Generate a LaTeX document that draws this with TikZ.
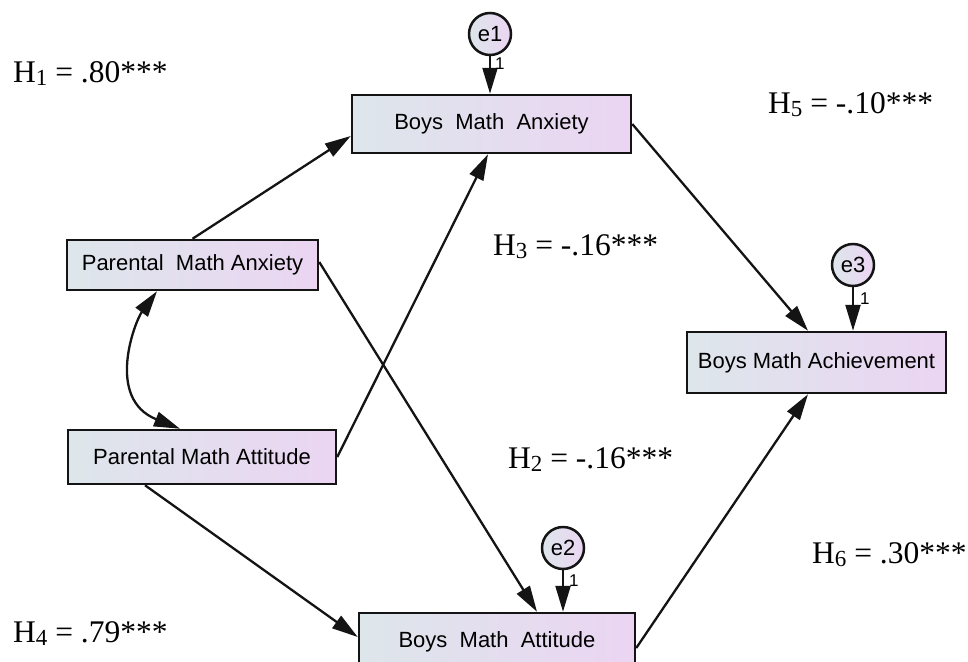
\documentclass[tikz,border=0pt]{standalone}
\usepackage{fontspec}
\setmainfont{Liberation Serif}
\newfontfamily\arialf{Liberation Sans}
\usetikzlibrary{arrows.meta,calc}
\definecolor{boxL}{RGB}{221,230,235}
\definecolor{boxR}{RGB}{235,213,242}
\definecolor{edge}{RGB}{20,20,20}
\begin{document}
\begin{tikzpicture}[x=1pt,y=-1pt,
  var/.style={draw=edge, line width=2.5pt, left color=boxL, right color=boxR,
    font=\arialf\fontsize{22}{25}\selectfont, inner sep=0pt},
  err/.style={circle, draw=edge, line width=2.5pt, minimum size=42pt, inner sep=0pt,
    left color=boxL, right color=boxR, font=\arialf\fontsize{22}{25}\selectfont},
  tip/.tip={Triangle[length=26pt,width=15pt]},
  conn/.style={draw=edge, line width=2.3pt, -tip},
  hlab/.style={anchor=base west, inner sep=0pt, font=\fontsize{31.5}{36}\selectfont},
  onelab/.style={anchor=west, inner sep=0pt, font=\arialf\fontsize{17}{19}\selectfont}]
\useasboundingbox (0,0) rectangle (968,661);
\clip (0,0) rectangle (968,661);

% observed variables
\node[var, minimum width=279pt, minimum height=58pt] (bmanx) at (491.5,124) {Boys~~Math~~Anxiety};
\node[var, minimum width=251pt, minimum height=50pt] (pmanx) at (192.5,265) {Parental~~Math Anxiety};
\node[var, minimum width=268pt, minimum height=54pt] (pmatt) at (202,457) {Parental Math Attitude};
\node[var, minimum width=259pt, minimum height=61pt] (bmach) at (816.5,362.5) {Boys Math Achievement};
\node[var, minimum width=276pt, minimum height=58pt] (bmatt) at (497,642) {Boys~~Math~~Attitude};

% error terms
\node[err] (e1) at (490,34) {e1};
\node[err] (e3) at (853,265) {e3};
\node[err] (e2) at (563,548) {e2};

% error paths
\draw[conn] (e1) -- (e1 |- bmanx.north);
\draw[conn] (e3) -- (e3 |- bmach.north);
\draw[conn] (e2) -- (e2 |- bmatt.north);
\node[onelab] (one1) at (495,64) {1};
\node[onelab] (one3) at (860,299) {1};
\node[onelab] (one2) at (569,581) {1};

% structural paths
\draw[conn] (pmanx.north) -- ([yshift=-12pt]bmanx.west);
\draw[conn] (pmatt.east) -- ([xshift=-3.5pt]bmanx.south);
\draw[conn] ([yshift=3pt]pmanx.east) -- ([xshift=40pt]bmatt.north);
\draw[conn] ([xshift=-57pt]pmatt.south) -- ([yshift=5pt]bmatt.west);
\draw[conn] (bmanx.east) -- ([xshift=-8.5pt]bmach.north);
\draw[conn] ([yshift=-6pt]bmatt.east) -- ([xshift=-8.5pt]bmach.south);

% covariance
\draw[draw=edge, line width=2.3pt, tip-tip] ([xshift=-35.5pt]pmanx.south)
  .. controls +(-22,30) and +(-75,-30) .. ([xshift=-22pt]pmatt.north);

% hypothesis labels
\node[hlab] (h1) at (13,82) {H\raisebox{-3pt}{\fontsize{23}{23}\selectfont 1} = .80***};
\node[hlab] (h5) at (768,113) {H\raisebox{-3pt}{\fontsize{23}{23}\selectfont 5} = -.10***};
\node[hlab] (h3) at (493,255) {H\raisebox{-3pt}{\fontsize{23}{23}\selectfont 3} = -.16***};
\node[hlab] (h2) at (508,468) {H\raisebox{-3pt}{\fontsize{23}{23}\selectfont 2} = -.16***};
\node[hlab] (h6) at (812,563) {H\raisebox{-3pt}{\fontsize{23}{23}\selectfont 6} = .30***};
\node[hlab] (h4) at (13,642) {H\raisebox{-3pt}{\fontsize{23}{23}\selectfont 4} = .79***};
\end{tikzpicture}
\end{document}
